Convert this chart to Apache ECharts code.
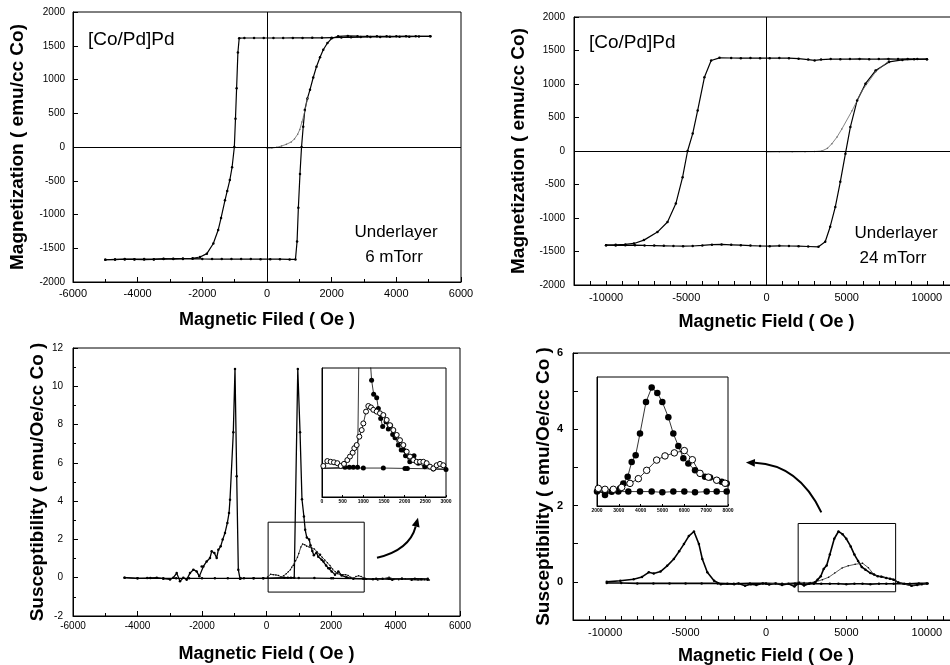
<!DOCTYPE html>
<html>
<head>
<meta charset="utf-8">
<script src="https://cdn.jsdelivr.net/npm/echarts@6/dist/echarts.min.js"></script>
<style>
html, body { margin: 0; padding: 0; background: #fff; }
#chart { width: 950px; height: 665px; }
</style>
</head>
<body>
<div id="chart"></div>
<script>
// ---- values: [field (Oe), value] ----

// top left: M(H), underlayer 6 mTorr
const loop6Desc = [[5050,1640],[4700,1638],[4400,1635],[4100,1635],[3800,1632],[3500,1630],[3200,1630],[2900,1628],[2600,1625],[2300,1622],[2000,1620],[1700,1618],[1400,1618],[1100,1616],[800,1616],[500,1615],[200,1615],[-100,1615],[-400,1615],[-700,1615],[-860,1612],[-900,1400],[-940,870],[-975,420],[-1010,0],[-1080,-300],[-1150,-490],[-1230,-650],[-1300,-790],[-1420,-1050],[-1510,-1230],[-1660,-1430],[-1860,-1580],[-2070,-1630],[-2300,-1648],[-2600,-1652],[-2900,-1655],[-3200,-1660],[-3500,-1662],[-3800,-1660],[-4100,-1662],[-4400,-1665],[-4700,-1665],[-5000,-1670]];
const loop6Asc = [[-5000,-1670],[-4700,-1668],[-4400,-1660],[-4100,-1665],[-3800,-1668],[-3500,-1665],[-3200,-1655],[-2900,-1660],[-2600,-1658],[-2300,-1655],[-2000,-1658],[-1700,-1660],[-1400,-1660],[-1100,-1660],[-800,-1660],[-500,-1660],[-200,-1662],[100,-1662],[400,-1662],[700,-1665],[880,-1665],[930,-1400],[970,-900],[1020,-400],[1068,0],[1120,300],[1170,550],[1250,720],[1330,850],[1430,1030],[1530,1190],[1640,1330],[1740,1440],[1870,1540],[2000,1610],[2200,1640],[2500,1645],[2800,1642],[3100,1640],[3400,1640],[3700,1640],[4000,1640],[4300,1642],[4600,1640],[5050,1640]];
const loop6Init = [[0,-20],[150,-15],[300,-5],[450,15],[600,40],[750,75],[850,120],[950,190],[1015,260],[1080,370],[1130,450],[1170,530],[1250,720]];

// top right: M(H), underlayer 24 mTorr
const loop24Desc = [[10000,1370],[9400,1372],[8800,1375],[8200,1372],[7600,1375],[7000,1372],[6400,1370],[5800,1375],[5200,1372],[4600,1370],[4000,1372],[3400,1365],[3000,1352],[2600,1365],[2000,1378],[1400,1385],[800,1388],[200,1385],[-400,1385],[-1000,1387],[-1600,1385],[-2200,1388],[-2930,1390],[-3450,1350],[-3870,1100],[-4290,605],[-4600,260],[-4920,0],[-5230,-390],[-5650,-785],[-6170,-1060],[-6800,-1210],[-7640,-1330],[-8260,-1380],[-8800,-1395],[-9400,-1400],[-10000,-1405]];
const loop24Asc = [[-10000,-1405],[-9400,-1410],[-8800,-1408],[-8200,-1405],[-7600,-1410],[-7000,-1412],[-6400,-1415],[-5800,-1418],[-5200,-1420],[-4600,-1418],[-4000,-1410],[-3400,-1398],[-2800,-1395],[-2200,-1400],[-1600,-1405],[-1000,-1412],[-400,-1418],[200,-1420],[800,-1415],[1400,-1418],[2000,-1420],[2600,-1425],[3240,-1430],[3660,-1355],[3970,-1130],[4290,-835],[4600,-460],[4920,-40],[5230,360],[5650,755],[6170,1005],[6800,1200],[7640,1330],[8470,1360],[9200,1368],[10000,1370]];
const loop24Init = [[0,-15],[800,-12],[1600,-12],[2400,-10],[3000,-8],[3450,0],[3800,40],[4080,110],[4400,210],[4700,330],[5330,600],[5960,900],[6800,1180],[7640,1350]];

// bottom left: susceptibility, 6 mTorr
const chi6Desc = [[5000,-0.06],[4600,-0.05],[4200,-0.06],[3800,-0.05],[3400,-0.06],[3050,-0.05],[2065,-0.03],[2008,-0.03],[1484,-0.02],[1000,-0.02],[-100,-0.03],[-400,-0.03],[-700,-0.03],[-822,-0.05],[-874,0.42],[-924,5.3],[-977,10.9],[-1029,7.6],[-1132,4.07],[-1162,3.38],[-1214,2.86],[-1287,2.34],[-1359,1.99],[-1421,1.64],[-1493,1.46],[-1545,1.03],[-1617,1.29],[-1700,1.38],[-1752,1.03],[-1855,0.85],[-1958,0.59],[-2010,0.59],[-2083,0.07],[-2165,0.33],[-2268,0.42],[-2372,0.24],[-2475,-0.1],[-2579,0],[-2682,-0.19],[-2784,0.24],[-2889,0],[-2992,-0.09],[-3200,-0.05],[-3404,0],[-3700,-0.02],[-4000,-0.03],[-4400,0]];
const chi6Asc = [[-4400,0],[-4000,-0.03],[-3600,-0.02],[-3200,-0.03],[-2800,-0.03],[-2400,-0.03],[-2000,-0.03],[-1600,-0.03],[-1200,-0.03],[-800,-0.03],[-400,-0.03],[-100,-0.03],[556,0],[661,0],[758,0],[860,0],[970,10.9],[1040,7.6],[1100,4.1],[1160,3.2],[1200,2.5],[1250,2.1],[1323,2.0],[1363,1.69],[1420,1.4],[1468,1.17],[1549,1.31],[1605,1.1],[1660,1.2],[1710,0.94],[1767,0.85],[1847,0.64],[1917,0.5],[1968,0.5],[2021,0.33],[2124,0.16],[2227,0.33],[2330,0.12],[2485,0.02],[2692,-0.05],[3000,-0.06],[3300,-0.08],[3600,-0.05],[3900,-0.1],[4200,-0.06],[4500,-0.1],[4800,-0.08],[5000,-0.1]];
const chi6Init = [[32,0.04],[129,0.18],[210,0.16],[290,0.145],[371,0.12],[452,0.04],[532,0.1],[613,0.21],[677,0.31],[742,0.42],[782,0.55],[839,0.64],[903,0.88],[960,1.07],[1000,1.26],[1065,1.6],[1121,1.76],[1185,1.72],[1242,1.65],[1323,1.6],[1403,1.55],[1484,1.5],[1565,1.36],[1645,1.21],[1726,1.07],[1807,0.93],[1887,0.78],[1968,0.64],[2049,0.45],[2129,0.31],[2210,0.21],[2290,0.16],[2371,0.16],[2452,0.16],[2532,0.12],[2613,0.02],[2694,-0.03],[2774,0.06],[2855,0.1],[2935,0.06],[3100,-0.08],[3300,-0.05],[3450,-0.12],[3600,-0.06],[3800,0.03],[3950,-0.08],[4100,-0.1],[4300,-0.06],[4500,-0.1],[4700,-0.12],[4900,-0.1],[5050,-0.12]];

// bottom right: susceptibility, 24 mTorr
const chi24Desc = [[10000,-0.04],[9500,-0.04],[8940,-0.05],[7940,-0.05],[7482,-0.05],[7023,-0.05],[6489,-0.06],[6000,-0.05],[5496,-0.05],[4992,-0.06],[4504,-0.05],[3969,-0.05],[3435,-0.05],[2977,-0.05],[2366,-0.06],[2000,-0.05],[1770,-0.12],[1400,-0.05],[1000,-0.08],[600,-0.04],[200,-0.07],[-200,-0.04],[-600,-0.08],[-940,-0.06],[-1300,-0.1],[-1700,-0.04],[-1980,-0.06],[-2400,-0.05],[-2810,-0.06],[-3230,0.03],[-3650,0.25],[-3960,0.6],[-4170,0.99],[-4480,1.32],[-4800,1.2],[-5104,0.99],[-5400,0.8],[-5730,0.6],[-6146,0.42],[-6560,0.27],[-6980,0.22],[-7290,0.25],[-7710,0.13],[-8230,0.07],[-9060,0.03],[-9900,0]];
const chi24Asc = [[-9900,-0.03],[-9000,-0.03],[-8000,-0.04],[-7000,-0.04],[-6000,-0.04],[-5000,-0.04],[-4000,-0.04],[-3000,-0.04],[-2000,-0.05],[-1000,-0.04],[0,-0.04],[1000,-0.05],[1800,-0.05],[2061,-0.03],[2366,-0.096],[2672,-0.052],[3053,-0.008],[3206,0.058],[3405,0.145],[3588,0.34],[3771,0.43],[3969,0.715],[4244,1.13],[4504,1.32],[4763,1.25],[4992,1.13],[5267,0.93],[5496,0.715],[5725,0.55],[5954,0.39],[6183,0.32],[6489,0.23],[6718,0.19],[6947,0.145],[7176,0.137],[7482,0.1],[7711,0.08],[7940,0.058],[8230,-0.02],[8600,-0.05],[9060,-0.1],[9400,-0.08],[9690,-0.06],[10050,-0.04]];
const chi24Init = [[0,-0.04],[1000,-0.05],[2061,-0.008],[2366,-0.02],[2748,-0.02],[3130,0.005],[3511,0.058],[3893,0.12],[4275,0.23],[4733,0.365],[5114,0.42],[5542,0.46],[6000,0.49],[6366,0.37],[6718,0.19],[7100,0.14],[7482,0.1],[7864,0.06],[8500,-0.05],[9000,-0.1],[9700,-0.06],[10000,-0.05]];

// labelled values on the +-12000 Oe axes and the 24 mTorr susceptibility axis
const wideFieldLabels = [-10000, -5000, 0, 5000, 10000];
const chi24Labels = [0, 2, 4, 6];

// zoom boxes and arrows (data coordinates)
const box6 = [[50, 2.9], [3030, -0.75]];
const box24 = [[2000, 1.53], [8060, -0.26]];
const arrow6 = [[3426, 1.04], [4697, 3.13]];
const arrow24 = [[3440, 1.82], [-1250, 3.13]];

const FONT = '"Liberation Sans", Arial, sans-serif';

const chart = echarts.init(document.getElementById('chart'));

const plainFmt = function (v) { return String(v); };
const wideFmt = function (v) { return wideFieldLabels.indexOf(v) >= 0 ? String(v) : ''; };

function gridBox(left, top, width, height, bg) {
  return {
    left: left, top: top, width: width, height: height,
    show: true, borderColor: '#000', borderWidth: 1,
    backgroundColor: bg || 'transparent',
    containLabel: false, outerBoundsMode: 'none'
  };
}

function valueAxis(gridIndex, min, max, interval, extra) {
  const ax = {
    type: 'value', gridIndex: gridIndex, min: min, max: max, interval: interval,
    axisLine: { show: true, onZero: false, lineStyle: { color: '#000', width: 1 } },
    axisTick: { show: true, inside: true, length: 5, lineStyle: { color: '#000' } },
    minorTick: { show: false },
    splitLine: { show: false },
    axisLabel: { color: '#000', fontSize: 11, fontFamily: FONT, margin: 6, formatter: plainFmt },
    nameLocation: 'middle',
    nameTextStyle: { color: '#000', fontSize: 18, fontWeight: 'bold', fontFamily: FONT }
  };
  return Object.assign(ax, extra || {});
}

function insetAxis(gridIndex, min, max, interval, showLabel) {
  return {
    type: 'value', gridIndex: gridIndex, min: min, max: max, interval: interval,
    axisLine: { show: true, onZero: false, lineStyle: { color: '#000', width: 1 } },
    axisTick: { show: showLabel, inside: true, length: 2, lineStyle: { color: '#000' } },
    splitLine: { show: false },
    axisLabel: { show: showLabel, color: '#000', fontSize: 5, fontWeight: 'bold', fontFamily: FONT, margin: 2, formatter: plainFmt }
  };
}

function curve(xi, data, width, extra) {
  return Object.assign({
    type: 'line', xAxisIndex: xi, yAxisIndex: xi, data: data,
    symbol: 'circle', symbolSize: 2.5, showAllSymbol: true,
    itemStyle: { color: '#000' },
    lineStyle: { color: '#000', width: width },
    clip: true, animation: false, silent: true
  }, extra || {});
}

function insetCurve(xi, data, size, open) {
  return {
    type: 'line', xAxisIndex: xi, yAxisIndex: xi, data: data,
    symbol: 'circle', symbolSize: size, showAllSymbol: true,
    itemStyle: open ? { color: '#fff', borderColor: '#000', borderWidth: 1 } : { color: '#000' },
    lineStyle: { color: '#000', width: 0.8 },
    clip: true, animation: false, silent: true, z: open ? 4 : 3
  };
}

const zeroLines = {
  silent: true, animation: false, symbol: ['none', 'none'], label: { show: false },
  lineStyle: { color: '#000', width: 1, type: 'solid' },
  data: [{ yAxis: 0 }, { xAxis: 0 }]
};

function boxArea(pts) {
  return {
    silent: true, animation: false,
    itemStyle: { color: 'rgba(0,0,0,0)', borderColor: '#000', borderWidth: 1 },
    data: [[{ coord: pts[0] }, { coord: pts[1] }]]
  };
}

const labels = [
  { type: 'text', id: 't1', x: 88, y: 40, style: { text: '[Co/Pd]Pd', font: '19px ' + FONT, fill: '#000', verticalAlign: 'middle' } },
  { type: 'text', id: 't2', x: 396, y: 232, style: { text: 'Underlayer', font: '17px ' + FONT, fill: '#000', align: 'center', verticalAlign: 'middle' } },
  { type: 'text', id: 't3', x: 394, y: 257, style: { text: '6 mTorr', font: '17px ' + FONT, fill: '#000', align: 'center', verticalAlign: 'middle' } },
  { type: 'text', id: 't4', x: 589, y: 43, style: { text: '[Co/Pd]Pd', font: '19px ' + FONT, fill: '#000', verticalAlign: 'middle' } },
  { type: 'text', id: 't5', x: 896, y: 233, style: { text: 'Underlayer', font: '17px ' + FONT, fill: '#000', align: 'center', verticalAlign: 'middle' } },
  { type: 'text', id: 't6', x: 893, y: 258, style: { text: '24 mTorr', font: '17px ' + FONT, fill: '#000', align: 'center', verticalAlign: 'middle' } }
];

const option = {
  backgroundColor: '#fff',
  grid: [
    gridBox(73, 12, 388, 270),
    gridBox(574, 17, 385, 268),
    gridBox(73, 348, 387, 268),
    gridBox(573, 353, 386, 267),
    gridBox(322, 368, 124, 129, '#fff'),
    gridBox(597, 377, 131, 129, '#fff')
  ],
  xAxis: [
    valueAxis(0, -6000, 6000, 2000, {
      name: 'Magnetic Filed ( Oe )', nameGap: 29,
      minorTick: { show: true, splitNumber: 2, length: 3, lineStyle: { color: '#000' } }
    }),
    valueAxis(1, -12000, 12000, 1000, {
      name: 'Magnetic Field ( Oe )', nameGap: 28,
      axisTick: { show: true, inside: true, length: 4, lineStyle: { color: '#000' } },
      axisLabel: { color: '#000', fontSize: 11, fontFamily: FONT, margin: 7, formatter: wideFmt }
    }),
    valueAxis(2, -6000, 6000, 2000, {
      name: 'Magnetic Field ( Oe )', nameGap: 29,
      axisLabel: { color: '#000', fontSize: 10, fontFamily: FONT, margin: 5, formatter: plainFmt },
      minorTick: { show: true, splitNumber: 2, length: 3, lineStyle: { color: '#000' } }
    }),
    valueAxis(3, -12000, 12000, 1000, {
      name: 'Magnetic Field ( Oe )', nameGap: 27,
      axisTick: { show: true, inside: true, length: 4, lineStyle: { color: '#000' } },
      axisLabel: { color: '#000', fontSize: 11, fontFamily: FONT, margin: 7, formatter: wideFmt }
    }),
    insetAxis(4, 0, 3000, 500, true),
    insetAxis(5, 2000, 8000, 1000, true)
  ],
  yAxis: [
    valueAxis(0, -2000, 2000, 500, {
      name: 'Magnetization ( emu/cc Co)', nameGap: 46, nameTextStyle: { color: '#000', fontSize: 19, fontWeight: 'bold', fontFamily: FONT },
      axisLabel: { color: '#000', fontSize: 10, fontFamily: FONT, margin: 8, formatter: plainFmt }
    }),
    valueAxis(1, -2000, 2000, 500, {
      name: 'Magnetization ( emu/cc Co)', nameGap: 46, nameTextStyle: { color: '#000', fontSize: 19, fontWeight: 'bold', fontFamily: FONT },
      axisLabel: { color: '#000', fontSize: 10, fontFamily: FONT, margin: 9, formatter: plainFmt }
    }),
    valueAxis(2, -2, 12, 2, {
      name: 'Susceptibility ( emu/Oe/cc Co )', nameGap: 26, nameTextStyle: { color: '#000', fontSize: 19, fontWeight: 'bold', fontFamily: FONT },
      axisLabel: { color: '#000', fontSize: 10, fontFamily: FONT, margin: 10, formatter: plainFmt },
      minorTick: { show: true, splitNumber: 2, length: 3, lineStyle: { color: '#000' } }
    }),
    valueAxis(3, -1, 6, 1, {
      name: 'Susceptibility ( emu/Oe/cc Co )', nameGap: 20, nameTextStyle: { color: '#000', fontSize: 19, fontWeight: 'bold', fontFamily: FONT },
      axisLabel: { color: '#000', fontSize: 11, fontWeight: 'bold', fontFamily: FONT, margin: 10,
        formatter: function (v) { return chi24Labels.indexOf(v) >= 0 ? String(v) : ''; } }
    }),
    insetAxis(4, -0.85, 2.85, 1, false),
    insetAxis(5, -0.24, 1.46, 1, false)
  ],
  series: [
    curve(0, loop6Desc, 1.2, { markLine: zeroLines }),
    curve(0, loop6Asc, 1.2),
    curve(0, loop6Init, 0.8, { symbolSize: 1.5, itemStyle: { color: '#666' }, lineStyle: { color: '#666', width: 0.8 } }),

    curve(1, loop24Desc, 1.2, { markLine: zeroLines }),
    curve(1, loop24Asc, 1.2),
    curve(1, loop24Init, 0.8, { symbolSize: 1.5, itemStyle: { color: '#666' }, lineStyle: { color: '#666', width: 0.8 } }),

    curve(2, chi6Desc, 1.3, { markArea: boxArea(box6) }),
    curve(2, chi6Asc, 1.3),
    curve(2, chi6Init, 0.9, { symbolSize: 1.5, lineStyle: { color: '#333', width: 0.9 } }),

    curve(3, chi24Desc, 1.6, { markArea: boxArea(box24) }),
    curve(3, chi24Asc, 1.6),
    curve(3, chi24Init, 0.8, { symbolSize: 1.5, lineStyle: { color: '#333', width: 0.8 } }),

    insetCurve(4, chi6Desc, 5, false),
    insetCurve(4, chi6Asc, 5, false),
    insetCurve(4, chi6Init, 5, true),

    insetCurve(5, chi24Desc, 6.5, false),
    insetCurve(5, chi24Asc, 6.5, false),
    insetCurve(5, chi24Init, 6.5, true)
  ],
  graphic: labels
};

chart.setOption(option);

// curved arrows pointing from the zoom boxes to the insets
function curvedArrow(id, gridIndex, pts, bend) {
  const a = chart.convertToPixel({ gridIndex: gridIndex }, pts[0]);
  const b = chart.convertToPixel({ gridIndex: gridIndex }, pts[1]);
  const cp = [(a[0] + b[0]) / 2 - (a[1] - b[1]) * bend, (a[1] + b[1]) / 2 - (b[0] - a[0]) * bend];
  const dx = b[0] - cp[0], dy = b[1] - cp[1];
  const len = Math.sqrt(dx * dx + dy * dy);
  const ux = dx / len, uy = dy / len;
  const headLen = 9, headHalf = 4;
  const base = [b[0] - ux * headLen, b[1] - uy * headLen];
  return [
    { type: 'bezierCurve', id: id + 'c', shape: { x1: a[0], y1: a[1], x2: base[0], y2: base[1], cpx1: cp[0], cpy1: cp[1] },
      style: { stroke: '#000', lineWidth: 2, fill: null } },
    { type: 'polygon', id: id + 'h', shape: { points: [b, [base[0] - uy * headHalf, base[1] + ux * headHalf], [base[0] + uy * headHalf, base[1] - ux * headHalf]] },
      style: { fill: '#000' } }
  ];
}

chart.setOption({
  graphic: labels.concat(curvedArrow('a6', 2, arrow6, -0.3), curvedArrow('a24', 3, arrow24, -0.3))
});
</script>
</body>
</html>
